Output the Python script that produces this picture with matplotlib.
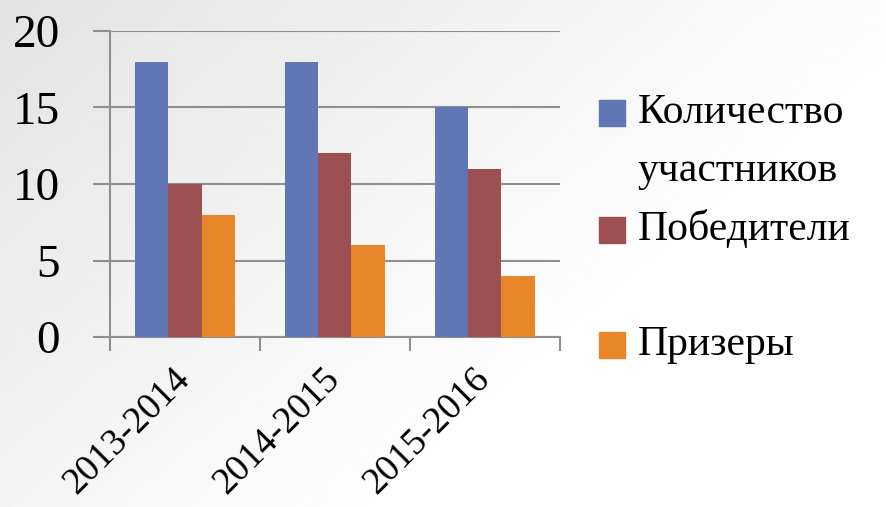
import numpy as np
import matplotlib.pyplot as plt
from matplotlib.patches import Rectangle

years = ['2013-2014', '2014-2015', '2015-2016']
participants = [18, 18, 15]
winners = [10, 12, 11]
prizewinners = [8, 6, 4]
labels = ['Количество\nучастников', 'Победители', 'Призеры']
colors = ['#6076b5', '#9c5052', '#e8872a']

plt.rcParams['font.family'] = ['Liberation Serif', 'DejaVu Serif']

fig = plt.figure(figsize=(8.87, 5.07), dpi=100)

# background gradient
bg = fig.add_axes([0, 0, 1, 1])
gx, gy = np.meshgrid(np.linspace(0, 1, 300), np.linspace(0, 1, 200))
t = np.clip((gx * 0.9 + gy * 0.6), 0, 1)
shade = 0.89 + 0.11 * t
bg.imshow(shade, cmap='gray', vmin=0, vmax=1, aspect='auto', extent=[0, 1, 0, 1])
bg.axis('off')

ax = fig.add_axes([0.124, 0.335, 0.507, 0.604])
ax.patch.set_alpha(0)

x = np.arange(len(years))
w = 0.222
series = [participants, winners, prizewinners]
for i, vals in enumerate(series):
    ax.bar(x + (i - 1) * w, vals, w, color=colors[i], zorder=3)

ax.set_xlim(-0.5, 2.5)
ax.set_ylim(0, 20)
ax.set_yticks([0, 5, 10, 15, 20])
ax.yaxis.grid(True, color='#8f8f8f', linewidth=1.5, zorder=0)
ax.tick_params(axis='y', length=12, width=1.5, color='#8f8f8f', labelsize=34, pad=24)

ax.set_xticks(np.arange(-0.5, 3, 1))
ax.set_xticklabels([])
ax.set_xticks(x, minor=True)
ax.set_xticklabels(years, minor=True, rotation=45, ha='right', va='center',
                   rotation_mode='anchor', fontsize=27)
ax.tick_params(axis='x', which='major', length=10, width=1.5, color='#8f8f8f')
ax.tick_params(axis='x', which='minor', length=0, pad=26)

for s in ['top', 'right']:
    ax.spines[s].set_visible(False)
for s in ['left', 'bottom']:
    ax.spines[s].set_color('#8f8f8f')
    ax.spines[s].set_linewidth(1.5)

# legend
ys = [113, 230, 345]
for lab, col, yp in zip(labels, colors, ys):
    yf = 1 - yp / 507
    fig.patches.append(Rectangle((599 / 887, yf - 13 / 507), 26 / 887, 26 / 507,
                                 transform=fig.transFigure, color=col))
    fig.text(638 / 887, yf, lab.split('\n')[0], fontsize=30, va='center')
    if '\n' in lab:
        fig.text(638 / 887, yf - 58 / 507, lab.split('\n')[1], fontsize=30, va='center')

fig.savefig('out.png', dpi=100)
